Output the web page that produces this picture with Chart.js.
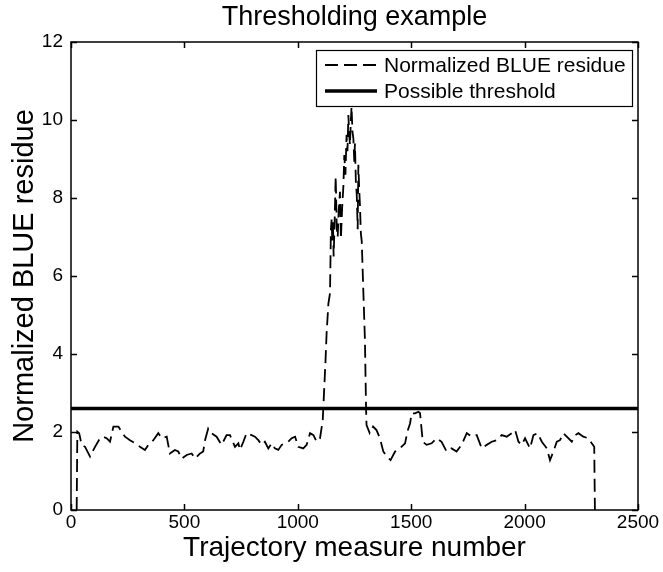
<!DOCTYPE html>
<html>
<head>
<meta charset="utf-8">
<title>Thresholding example</title>
<script src="https://cdn.jsdelivr.net/npm/chart.js@4.4.1/dist/chart.umd.min.js"></script>
<style>
  html, body { margin: 0; padding: 0; background: #fff; }
  #wrap { width: 663px; height: 572px; }
</style>
</head>
<body>
<div id="wrap"><canvas id="thresh-chart" width="663" height="572"></canvas></div>
<script>
// data
const measureNumber = [
    25, 28, 36, 47, 62, 84, 106, 128, 142, 157, 172, 187, 209, 223, 238, 260, 282, 304, 326, 341,
    363, 385, 400, 422, 436, 458, 473, 488, 510, 532, 547, 569, 583, 591, 605, 620, 642, 664, 686, 701,
    723, 738, 745, 760, 774, 796, 811, 826, 841, 855, 870, 885, 899, 914, 929, 943, 958, 973, 988, 1002,
    1024, 1039, 1054, 1069, 1083, 1098, 1110, 1122, 1127, 1135, 1142, 1146, 1149, 1152, 1155, 1158, 1162, 1167, 1172, 1176,
    1180, 1186, 1190, 1196, 1201, 1205, 1210, 1215, 1219, 1223, 1227, 1230, 1234, 1237, 1241, 1245, 1249, 1252, 1256, 1260,
    1264, 1267, 1271, 1274, 1278, 1282, 1289, 1296, 1301, 1303, 1317, 1332, 1347, 1362, 1377, 1392, 1409, 1429, 1450, 1473,
    1483, 1495, 1502, 1517, 1532, 1539, 1551, 1568, 1590, 1612, 1634, 1656, 1678, 1700, 1722, 1745, 1767, 1789, 1811, 1833,
    1855, 1877, 1899, 1921, 1943, 1958, 1973, 1987, 2002, 2024, 2039, 2057, 2076, 2098, 2112, 2127, 2142, 2156, 2171, 2186,
    2208, 2223, 2237, 2259, 2281, 2296, 2307, 2310
];
const blueResidue = [
    0, 2.01, 1.97, 1.67, 1.62, 1.37, 1.62, 1.84, 1.88, 1.84, 1.75, 2.14, 2.14, 2.01, 1.88, 1.79, 1.71, 1.62, 1.54, 1.67,
    1.79, 1.97, 1.84, 1.88, 1.45, 1.54, 1.50, 1.32, 1.41, 1.45, 1.32, 1.45, 1.50, 1.79, 2.09, 1.97, 1.88, 1.67, 1.92, 1.92,
    1.62, 1.71, 1.54, 1.75, 1.97, 1.92, 1.88, 1.79, 1.67, 1.75, 1.58, 1.71, 1.58, 1.54, 1.67, 1.71, 1.75, 1.84, 1.88, 1.62,
    1.58, 1.67, 1.97, 1.92, 1.75, 1.84, 2.31, 3.80, 4.53, 5.30, 5.56, 7.20, 7.45, 6.90, 7.40, 6.50, 7.30, 8.55, 7.20, 7.00,
    7.65, 8.16, 6.95, 7.80, 8.30, 9.10, 8.60, 9.62, 9.20, 10.13, 9.60, 9.36, 10.00, 10.34, 9.70, 9.53, 8.93, 9.40, 8.40, 8.08,
    7.20, 8.85, 8.20, 7.82, 7.10, 6.88, 5.60, 4.36, 2.60, 2.18, 1.97, 2.14, 2.05, 1.84, 1.50, 1.37, 1.28, 1.50, 1.58, 1.71,
    2.01, 2.22, 2.48, 2.48, 2.52, 2.48, 1.75, 1.67, 1.71, 1.84, 1.75, 1.50, 1.58, 1.50, 1.67, 1.97, 1.88, 1.92, 1.58, 1.67,
    1.75, 1.79, 1.92, 1.88, 1.97, 2.05, 1.75, 1.67, 1.84, 1.58, 1.92, 1.97, 1.75, 1.58, 1.28, 1.50, 1.75, 1.79, 1.97, 1.88,
    1.75, 1.92, 1.97, 1.88, 1.84, 1.71, 1.62, 0
];
const thresholdX = [0, 2500];
const thresholdY = [2.6, 2.6];
const xTicks = [0, 500, 1000, 1500, 2000, 2500];
const yTicks = [0, 2, 4, 6, 8, 10, 12];
const seriesNames = ['Normalized BLUE residue', 'Possible threshold'];
const chartTitle = 'Thresholding example';

const FONT = "'Liberation Sans', Arial, Helvetica, sans-serif";
const DASH = [13, 6];

const toPoints = (xs, ys) => xs.map((x, i) => ({ x: x, y: ys[i] }));

// white page + title centred over the axes box
const whiteBg = {
    id: 'whiteBg',
    beforeDraw(chart) {
        const ctx = chart.ctx;
        const a = chart.chartArea;
        ctx.save();
        ctx.fillStyle = '#fff';
        ctx.fillRect(0, 0, chart.width, chart.height);
        ctx.fillStyle = '#000';
        ctx.font = '27px ' + FONT;
        ctx.textAlign = 'center';
        ctx.textBaseline = 'alphabetic';
        ctx.fillText(chartTitle, (a.left + a.right) / 2, 25);
        ctx.restore();
    }
};

// matlab style box with inward ticks on all four sides, then the legend
const matlabAxes = {
    id: 'matlabAxes',
    afterDatasetsDraw(chart) {
        const ctx = chart.ctx;
        const a = chart.chartArea;
        const xs = chart.scales.x, ys = chart.scales.y;
        const tl = 6;
        ctx.save();
        ctx.strokeStyle = '#000';
        ctx.lineWidth = 1.5;
        ctx.setLineDash([]);
        ctx.beginPath();
        xTicks.forEach(v => {
            const px = Math.round(xs.getPixelForValue(v)) + 0.5;
            ctx.moveTo(px, a.bottom); ctx.lineTo(px, a.bottom - tl);
            ctx.moveTo(px, a.top); ctx.lineTo(px, a.top + tl);
        });
        yTicks.forEach(v => {
            const py = Math.round(ys.getPixelForValue(v)) + 0.5;
            ctx.moveTo(a.left, py); ctx.lineTo(a.left + tl, py);
            ctx.moveTo(a.right, py); ctx.lineTo(a.right - tl, py);
        });
        ctx.stroke();
        ctx.strokeRect(a.left, a.top, a.right - a.left, a.bottom - a.top);

        // legend box
        const lx = 316, ly = 50, lw = 316, lh = 56;
        ctx.fillStyle = '#fff';
        ctx.fillRect(lx, ly, lw, lh);
        ctx.lineWidth = 1.2;
        ctx.strokeRect(lx + 0.5, ly + 0.5, lw, lh);

        const rows = [ly + 15, ly + 41];
        ctx.lineWidth = 1.8;
        ctx.setLineDash(DASH);
        ctx.beginPath();
        ctx.moveTo(325, rows[0]); ctx.lineTo(377, rows[0]);
        ctx.stroke();
        ctx.setLineDash([]);
        ctx.lineWidth = 3.5;
        ctx.beginPath();
        ctx.moveTo(325, rows[1]); ctx.lineTo(377, rows[1]);
        ctx.stroke();

        ctx.fillStyle = '#000';
        ctx.font = '21px ' + FONT;
        ctx.textBaseline = 'middle';
        ctx.textAlign = 'left';
        ctx.fillText(seriesNames[0], 384, rows[0] + 1);
        ctx.fillText(seriesNames[1], 384, rows[1] + 1);
        ctx.restore();
    }
};

const data = {
    datasets: [
        {
            label: seriesNames[0],
            data: toPoints(measureNumber, blueResidue),
            borderColor: '#000',
            borderWidth: 1.8,
            borderDash: DASH,
            pointRadius: 0,
            tension: 0,
            fill: false
        },
        {
            label: seriesNames[1],
            data: toPoints(thresholdX, thresholdY),
            borderColor: '#000',
            borderWidth: 3.5,
            pointRadius: 0,
            fill: false
        }
    ]
};

const config = {
    type: 'line',
    data,
    options: {
        responsive: false,
        animation: false,
        devicePixelRatio: 1,
        layout: {
            padding: { top: 42, right: 25, left: 0, bottom: 0 }
        },
        plugins: {
            legend: { display: false },
            tooltip: { enabled: false },
            title: { display: false }
        },
        scales: {
            x: {
                type: 'linear',
                min: 0,
                max: 2500,
                afterFit: (scale) => { scale.height = 62; },
                afterBuildTicks: (scale) => { scale.ticks = xTicks.map(v => ({ value: v })); },
                grid: { display: false, drawTicks: false },
                border: { display: false },
                ticks: {
                    color: '#000',
                    padding: 1,
                    maxRotation: 0,
                    font: { family: FONT, size: 19 },
                    callback: (v) => String(v)
                },
                title: {
                    display: true,
                    text: 'Trajectory measure number',
                    color: '#000',
                    font: { family: FONT, size: 28 },
                    padding: { top: 0, bottom: 7 }
                }
            },
            y: {
                type: 'linear',
                min: 0,
                max: 12,
                afterFit: (scale) => { scale.width = 71; },
                afterBuildTicks: (scale) => { scale.ticks = yTicks.map(v => ({ value: v })); },
                grid: { display: false, drawTicks: false },
                border: { display: false },
                ticks: {
                    color: '#000',
                    padding: 8,
                    font: { family: FONT, size: 19 },
                    callback: (v) => String(v)
                },
                title: {
                    display: true,
                    text: 'Normalized BLUE residue',
                    color: '#000',
                    font: { family: FONT, size: 29 },
                    padding: { top: 8, bottom: 0 }
                }
            }
        }
    },
    plugins: [whiteBg, matlabAxes]
};

const threshChart = new Chart(document.getElementById('thresh-chart'), config);
</script>
</body>
</html>
